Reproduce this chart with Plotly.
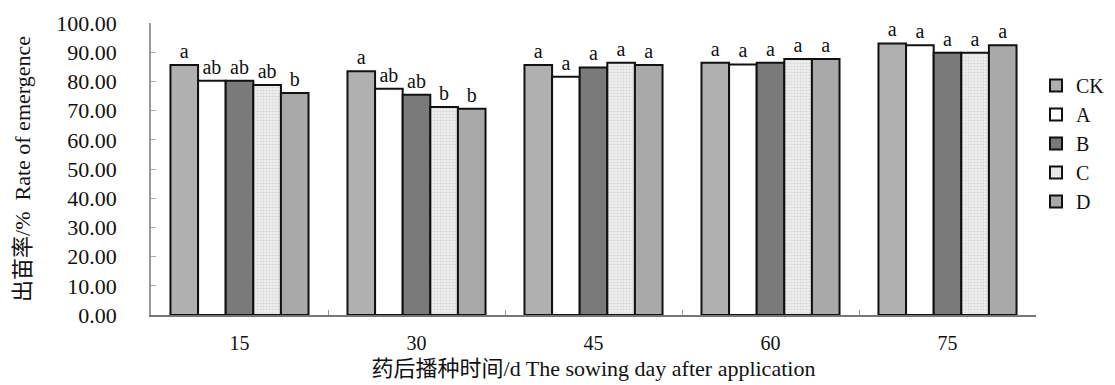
import plotly.graph_objects as go

categories = ["15", "30", "45", "60", "75"]
series_names = ["CK", "A", "B", "C", "D"]
ck = [85.6, 83.5, 85.6, 86.4, 93.0]
a_vals = [80.2, 77.5, 81.6, 85.8, 92.4]
b_vals = [80.2, 75.4, 84.8, 86.4, 89.8]
c_vals = [78.8, 71.2, 86.4, 87.7, 89.8]
d_vals = [76.0, 70.6, 85.6, 87.7, 92.4]
ck_letters = ["a", "a", "a", "a", "a"]
a_letters = ["ab", "ab", "a", "a", "a"]
b_letters = ["ab", "ab", "a", "a", "a"]
c_letters = ["ab", "b", "a", "a", "a"]
d_letters = ["b", "b", "a", "a", "a"]
y_ticks = [0, 10, 20, 30, 40, 50, 60, 70, 80, 90, 100]

values = [ck, a_vals, b_vals, c_vals, d_vals]
letters = [ck_letters, a_letters, b_letters, c_letters, d_letters]
fills = ["#b0b0b0", "#ffffff", "#7a7a7a", "#e6e6e6", "#a9a9a9"]

FONT = "Liberation Serif, Times New Roman, Noto Sans CJK SC, serif"

fig = go.Figure()
for name, vals, lets, col in zip(series_names, values, letters, fills):
    marker = dict(color=col, line=dict(color="#111111", width=2))
    if name == "C":
        marker["pattern"] = dict(shape=".", size=3, solidity=0.35,
                                 fgcolor="#c4c4c4", bgcolor="#eeeeee")
    fig.add_trace(go.Bar(
        name=name, x=categories, y=vals, marker=marker,
        text=lets, textposition="outside", cliponaxis=False,
        textfont=dict(family=FONT, size=20, color="#111111"),
    ))

fig.update_layout(
    width=1115, height=385,
    margin=dict(l=143, r=87, t=15, b=78, autoexpand=False),
    paper_bgcolor="white", plot_bgcolor="white",
    barmode="group", bargap=0.22, bargroupgap=0,
    font=dict(family=FONT, size=20, color="#111111"),
    showlegend=True,
    legend=dict(x=1.0, y=0.853, xanchor="left", yanchor="top",
                font=dict(family=FONT, size=20, color="#111111"),
                tracegroupgap=0, itemwidth=30, bgcolor="rgba(0,0,0,0)"),
)
fig.update_xaxes(
    type="category", showline=True, linecolor="#777777", linewidth=1.5,
    ticks="inside", tickson="boundaries", ticklen=5, tickcolor="#999999",
    showgrid=False, ticklabelstandoff=9, automargin=False,
    tickfont=dict(family=FONT, size=20),
    title=dict(text="药后播种时间/d The sowing day after application",
               font=dict(family=FONT, size=22), standoff=8),
)
fig.update_yaxes(
    range=[0, 100], tickvals=y_ticks,
    ticktext=[f"{v:.2f}" for v in y_ticks],
    showline=True, linecolor="#999999", linewidth=1.5,
    ticks="inside", ticklen=5, tickcolor="#aaaaaa",
    showgrid=False, zeroline=False, ticklabelstandoff=28, automargin=False,
    tickfont=dict(family=FONT, size=22),
    title=dict(text="出苗率/%  Rate of emergence",
               font=dict(family=FONT, size=22), standoff=20),
)

fig.write_html("out.html")
